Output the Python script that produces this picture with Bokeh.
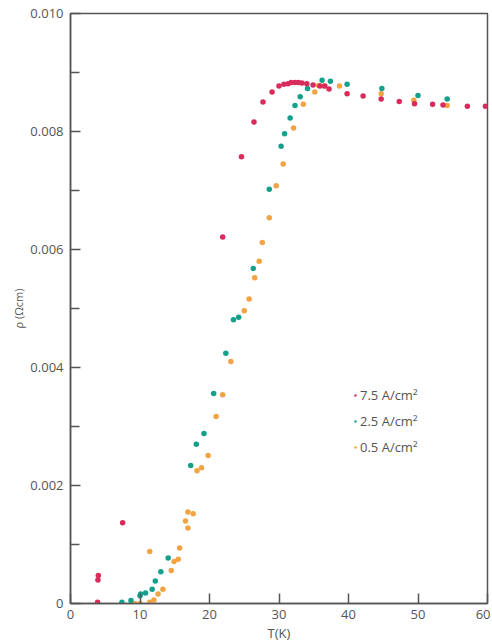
from bokeh.plotting import figure
from bokeh.models import FixedTicker, Legend, LegendItem, PrintfTickFormatter
from bokeh.embed import file_html
from bokeh.resources import INLINE

# ---- data ----
red_T = [3.9, 3.95, 4.0, 7.5, 21.9, 24.6, 26.4, 27.7, 29.0, 30.0, 30.7, 31.3, 31.75,
         32.3, 32.8, 33.3, 34.0, 34.9, 35.9, 36.6, 37.2, 39.8, 42.1, 44.7, 47.3,
         49.5, 52.1, 53.6, 57.1, 59.7]
red_rho = [0.00002, 0.0004, 0.000475, 0.00137, 0.00621, 0.00757, 0.00816, 0.0085,
           0.00867, 0.00877, 0.0088, 0.00881, 0.00883, 0.00883, 0.00883, 0.00882,
           0.00881, 0.00879, 0.00877, 0.00877, 0.00872, 0.00864, 0.0086, 0.00855,
           0.00851, 0.00847, 0.00846, 0.00845, 0.00843, 0.00843]

teal_T = [7.4, 8.7, 10.0, 10.1, 10.8, 11.75, 12.2, 13.0, 14.05, 17.3, 18.1, 19.2,
          20.6, 22.35, 23.45, 24.2, 26.3, 28.6, 30.3, 30.8, 31.6, 32.3, 33.05, 34.1,
          36.2, 37.4, 39.8, 44.8, 50.0, 54.2]
teal_rho = [0.00002, 0.00005, 0.00013, 0.00016, 0.00018, 0.00024, 0.00038, 0.00054,
            0.00077, 0.00234, 0.0027, 0.00288, 0.00356, 0.00424, 0.00481, 0.00485,
            0.00568, 0.00702, 0.00775, 0.00796, 0.00823, 0.00844, 0.00859, 0.00873,
            0.00887, 0.00885, 0.0088, 0.00873, 0.00861, 0.00855]

orange_T = [9.25, 10.0, 11.4, 11.4, 12.0, 12.6, 13.3, 14.5, 14.9, 15.5, 15.7, 16.55,
            16.9, 16.9, 17.65, 18.2, 18.85, 19.8, 20.95, 21.9, 23.07, 25.0, 25.7,
            26.5, 27.15, 27.6, 28.6, 29.6, 30.6, 32.1, 33.5, 35.15, 35.7, 36.4,
            38.7, 44.7, 49.4, 54.2]
orange_rho = [0.0, 0.0, 0.00002, 0.00088, 0.00006, 0.00016, 0.00024, 0.00056, 0.00071,
              0.00075, 0.00094, 0.0014, 0.00128, 0.00155, 0.00152, 0.00225, 0.0023,
              0.00251, 0.00317, 0.00354, 0.0041, 0.00496, 0.00516, 0.00552, 0.0058,
              0.00612, 0.00654, 0.00708, 0.00745, 0.00806, 0.00846, 0.00867, 0.00878,
              0.00877, 0.00877, 0.00864, 0.00853, 0.00844]

series_labels = ["7.5 A/cm\u00b2", "2.5 A/cm\u00b2", "0.5 A/cm\u00b2"]
x_ticks = [0, 10, 20, 30, 40, 50, 60]
y_ticks = [0, 0.002, 0.004, 0.006, 0.008, 0.010]
y_minor = [0.001, 0.003, 0.005, 0.007, 0.009]

RED = "#d92b5b"
TEAL = "#14a08b"
ORANGE = "#f2a444"
AX = "#555555"
TXT = "#555555"

p = figure(width=490, height=644, x_range=(0, 60), y_range=(0, 0.010),
           output_backend="svg", toolbar_location=None,
           min_border_left=70, min_border_right=3, min_border_top=13,
           min_border_bottom=41)
p.background_fill_color = "white"
p.border_fill_color = "white"
p.grid.visible = False
p.outline_line_color = AX
p.outline_line_width = 1.5

r_orange = p.scatter(orange_T, orange_rho, size=5.5, color=ORANGE, line_color=None)
r_teal = p.scatter(teal_T, teal_rho, size=5.5, color=TEAL, line_color=None)
r_red = p.scatter(red_T, red_rho, size=5.5, color=RED, line_color=None)

p.xaxis.ticker = FixedTicker(ticks=x_ticks)
p.yaxis.ticker = FixedTicker(ticks=y_ticks, minor_ticks=y_minor)
p.yaxis.formatter = PrintfTickFormatter(format="%.3f")
p.yaxis.major_label_overrides = {0: "0"}

for ax in (p.xaxis, p.yaxis):
    ax.axis_line_color = AX
    ax.axis_line_width = 1.5
    ax.major_tick_line_color = AX
    ax.major_tick_line_width = 1.5
    ax.major_tick_in = 10
    ax.major_tick_out = 0
    ax.minor_tick_line_color = AX
    ax.minor_tick_line_width = 1.5
    ax.minor_tick_in = 9
    ax.minor_tick_out = 0
    ax.major_label_text_color = TXT
    ax.major_label_text_font = "Open Sans"
    ax.major_label_text_font_size = "13px"
    ax.axis_label_text_color = TXT
    ax.axis_label_text_font = "Open Sans"
    ax.axis_label_text_font_style = "normal"

p.xaxis.minor_tick_line_color = None
p.xaxis.major_label_standoff = 6
p.yaxis.major_label_standoff = 7
p.xaxis.axis_label = "T(K)"
p.yaxis.axis_label = "\u03c1 (\u03a9cm)"
p.xaxis.axis_label_text_font_size = "13px"
p.yaxis.axis_label_text_font_size = "11px"
p.xaxis.axis_label_standoff = 2
p.yaxis.axis_label_standoff = 1

legend = Legend(items=[LegendItem(label=series_labels[0], renderers=[r_red]),
                       LegendItem(label=series_labels[1], renderers=[r_teal]),
                       LegendItem(label=series_labels[2], renderers=[r_orange])],
                location=(282, 146), padding=0, margin=0, spacing=6,
                glyph_width=6, glyph_height=20, label_height=20, label_standoff=2,
                border_line_color=None, background_fill_alpha=0,
                label_text_font="Open Sans", label_text_font_size="13px",
                label_text_color=TXT)
p.add_layout(legend)

open("out.html", "w").write(file_html(p, INLINE))
